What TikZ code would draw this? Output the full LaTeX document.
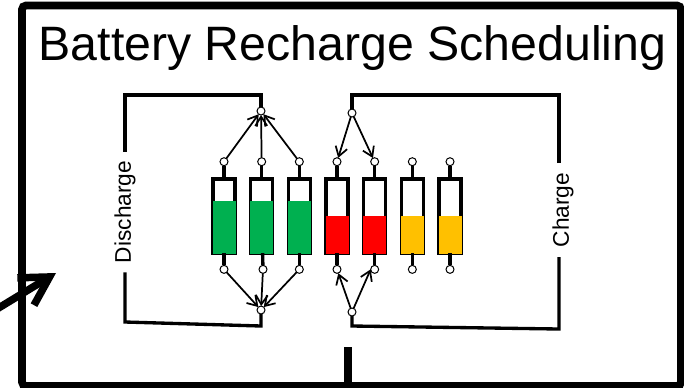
\documentclass[tikz,border=0pt]{standalone}
\usepackage{fontspec}
\setmainfont{Liberation Sans}
\usetikzlibrary{arrows.meta,positioning}
\definecolor{cellgreen}{HTML}{00B050}
\definecolor{cellyellow}{HTML}{FFC000}

\begin{document}
\begin{tikzpicture}[
  x=0.75pt, y=-0.75pt,
  node distance=9.2pt and 11.75pt,
  cell/.style={rectangle, draw, line width=2.5pt, minimum width=16.5pt, minimum height=55.65pt, inner sep=0pt, outer sep=0pt},
  full/.style={rectangle, fill=cellgreen, minimum width=17.25pt, minimum height=39.4pt, inner sep=0pt, outer sep=0pt, anchor=south},
  empty/.style={rectangle, fill=red, minimum width=17.25pt, minimum height=28.1pt, inner sep=0pt, outer sep=0pt, anchor=south},
  half/.style={empty, fill=cellyellow},
  dot/.style={circle, draw, fill=white, line width=0.75pt, minimum size=6pt, inner sep=0pt, outer sep=0pt},
  wire/.style={line width=2.5pt},
  arrow/.style={-{Straight Barb[length=7pt, width=9pt]}, line width=1.3pt},
  label/.style={font=\fontsize{17}{17}\selectfont, rotate=90, inner xsep=7pt, inner ysep=0pt, outer sep=0pt},
  bigarrow/.style={-{Straight Barb[length=21pt, width=24pt]}, line width=5.6pt}
]
\useasboundingbox (0,0) rectangle (684,387);

% Incoming arrow and frame
\coordinate (src) at (-8,312);
\coordinate (dst) at (56,273);
\draw[bigarrow] (src) -- (dst);
\draw[line width=5.8pt, rounded corners=3pt] (22,5.5) rectangle (681,386);
\coordinate (tick0) at (348,347);
\coordinate (tick1) at (348,385);
\draw[line width=5.6pt] (tick0) -- (tick1);

% Title
\node[font=\fontsize{36.2}{37}\selectfont] (title) at (352.5,48) {Battery Recharge Scheduling};

% Cells
\node[cell] (c1) at (224,216) {};
\node[cell, right=of c1] (c2) {};
\node[cell, right=of c2] (c3) {};
\node[cell, right=of c3] (c4) {};
\node[cell, right=of c4] (c5) {};
\node[cell, right=of c5] (c6) {};
\node[cell, right=of c6] (c7) {};

% Charge levels
\node[full] at ([yshift=-0.4pt]c1.south) {};
\node[full] at ([yshift=-0.4pt]c2.south) {};
\node[full] at ([yshift=-0.4pt]c3.south) {};
\node[empty] at ([yshift=-0.4pt]c4.south) {};
\node[empty] at ([yshift=-0.4pt]c5.south) {};
\node[half] at ([yshift=-0.4pt]c6.south) {};
\node[half] at ([yshift=-0.4pt]c7.south) {};

% Terminals
\node[dot, above=9.9pt of c1] (t1) {};
\node[dot, above=9.9pt of c2] (t2) {};
\node[dot, above=9.9pt of c3] (t3) {};
\node[dot, above=9.9pt of c4] (t4) {};
\node[dot, above=9.9pt of c5] (t5) {};
\node[dot, above=9.9pt of c6] (t6) {};
\node[dot, above=9.9pt of c7] (t7) {};
\node[dot, below=of c1] (b1) {};
\node[dot, below=of c2, xshift=1pt] (b2) {};
\node[dot, below=of c3] (b3) {};
\node[dot, below=of c4] (b4) {};
\node[dot, below=of c5] (b5) {};
\node[dot, below=of c6] (b6) {};
\node[dot, below=of c7] (b7) {};

\foreach \i in {1,...,7} {
  \draw[wire] (c\i) -- (t\i);
  \draw[wire] (c\i) -- (b\i);
}

% Hubs
\node[dot] (dtop) at (261,111) {};
\node[dot] (dbot) at (261,310) {};
\node[dot] (ctop) at (352,113) {};
\node[dot] (cbot) at (352,312) {};

% Discharge side
\node[label] (discharge) at (125,212) {Discharge};
\coordinate (dcorner) at (261,95);
\coordinate (dleft) at (125,322);
\coordinate (dright) at (261,326);
\draw[wire] (discharge.east) |- (dcorner) -- (dtop);
\draw[wire] (discharge.west) -- (dleft) -- (dright) -- (dbot);

% Charge side
\node[label] (charge) at (563,210) {Charge};
\coordinate (ccorner) at (352,95);
\coordinate (cleft) at (352,326);
\coordinate (cright) at (559,329);
\coordinate (cup) at (559,163);
\coordinate (cdown) at (559,257);
\draw[wire] (cup) |- (ccorner) -- (ctop);
\draw[wire] (cdown) -- (cright) -- (cleft) -- (cbot);

% Arrows
\draw[arrow] (t1) -- (dtop);
\draw[arrow] (t2) -- (dtop);
\draw[arrow] (t3) -- (dtop);
\draw[arrow] (b1) -- (dbot);
\draw[arrow] (b2) -- (dbot);
\draw[arrow] (b3) -- (dbot);
\draw[arrow] (ctop) -- (t4);
\draw[arrow] (ctop) -- (t5);
\draw[arrow] (cbot) -- (b4);
\draw[arrow] (cbot) -- (b5.west);

\end{tikzpicture}
\end{document}
